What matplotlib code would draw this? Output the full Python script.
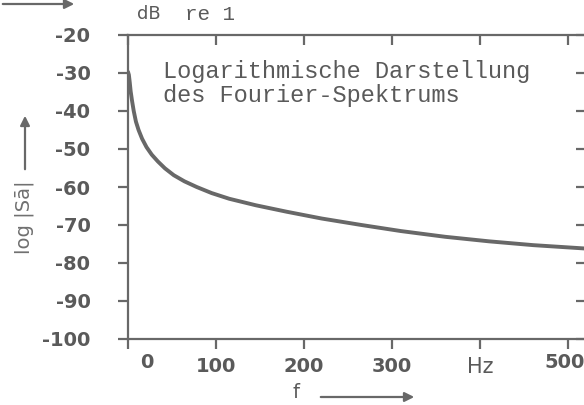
import numpy as np
import matplotlib
matplotlib.use("Agg")
from matplotlib import pyplot as plt

# Fourier-Spektrum
freq = [0, 1, 2, 3, 4.5, 6.5, 9, 12, 16, 21, 27, 34, 42, 52, 64, 78, 95, 115, 145,
        180, 220, 265, 310, 360, 410, 460, 520]
level_db = [-29.7, -30.5, -32.5, -34.8, -37.2, -40.0, -42.8, -45.0, -47.3, -49.5, -51.5,
            -53.3, -55.1, -56.9, -58.5, -60.0, -61.6, -63.1, -64.8, -66.5, -68.3, -70.0,
            -71.6, -73.1, -74.3, -75.3, -76.2]

x_ticks = [0, 100, 200, 300, 400, 500]
x_labels = ["", "100", "200", "300", "Hz", ""]
y_ticks = [-100, -90, -80, -70, -60, -50, -40, -30, -20]
y_labels = [str(v) for v in y_ticks]

grey = "#686868"
txt = "#5a5a5a"

fig = plt.figure(figsize=(5.84, 4.05), dpi=100)
ax = fig.add_axes([128/584, 66/405, 458/584, 304/405])

ax.plot(freq, level_db, color=grey, lw=2.8, solid_capstyle="round", solid_joinstyle="round")
ax.set_xlim(0, 520)
ax.set_ylim(-100, -20)

for s in ax.spines.values():
    s.set_color(grey)
    s.set_linewidth(1.6)

ax.set_xticks(x_ticks)
ax.set_xticklabels(x_labels)
ax.set_yticks(y_ticks)
ax.set_yticklabels(y_labels)
ax.tick_params(axis="x", direction="out", length=7, width=1.6, color=grey, pad=6,
               labelsize=14, labelcolor=txt)
ax.tick_params(axis="y", direction="out", length=7, width=1.6, color=grey, pad=20,
               labelsize=14, labelcolor=txt)
for lab in ax.get_xticklabels() + ax.get_yticklabels():
    lab.set_fontweight("bold")
ax.get_xticklabels()[4].set_fontweight("normal")
ax.get_xticklabels()[4].set_fontsize(15)

# "0" rechts neben dem Strich, "500" etwas links davon
ax.annotate("0", xy=(0, 0), xycoords=("data", "axes fraction"), xytext=(19, -14),
            textcoords="offset pixels", ha="center", va="top", fontsize=14,
            fontweight="bold", color=txt)
ax.annotate("500", xy=(500, 0), xycoords=("data", "axes fraction"), xytext=(-4, -14),
            textcoords="offset pixels", ha="center", va="top", fontsize=14,
            fontweight="bold", color=txt)

# Striche oben und rechts nach innen
top = ax.secondary_xaxis("top")
top.set_xticks(x_ticks)
top.tick_params(direction="in", length=7, width=1.6, color=grey, labeltop=False)
top.spines["top"].set_visible(False)
right = ax.secondary_yaxis("right")
right.set_yticks(y_ticks)
right.tick_params(direction="in", length=7, width=1.6, color=grey, labelright=False)
right.spines["right"].set_visible(False)

ax.text(40, -29.5, "Logarithmische Darstellung", family="Liberation Mono", fontsize=17,
        color=txt, va="center")
ax.text(40, -35.8, "des Fourier-Spektrums", family="Liberation Mono", fontsize=17,
        color=txt, va="center")

fig.text(137/584, 391/405, "dB", fontsize=13, color=txt, va="center")
fig.text(185/584, 391/405, "re 1", family="Liberation Mono", fontsize=15, color=txt, va="center")

fig.text(24/584, 188/405, "log |Sā|", rotation=90, fontsize=14, color="#707070",
         ha="center", va="center")
fig.text(296/584, 12/405, "f", fontsize=14, color=txt, ha="center", va="center")

arrow = dict(arrowstyle="-|>", color=grey, lw=1.6, mutation_scale=14)
fig.add_artist(matplotlib.patches.FancyArrowPatch((25/584, 233/405), (25/584, 292/405),
                                                  transform=fig.transFigure, **arrow))
fig.add_artist(matplotlib.patches.FancyArrowPatch((318/584, 8/405), (417/584, 8/405),
                                                  transform=fig.transFigure, **arrow))
fig.add_artist(matplotlib.patches.FancyArrowPatch((0, 401/405), (77/584, 401/405),
                                                  transform=fig.transFigure, **arrow))

fig.savefig("out.png", dpi=100)
